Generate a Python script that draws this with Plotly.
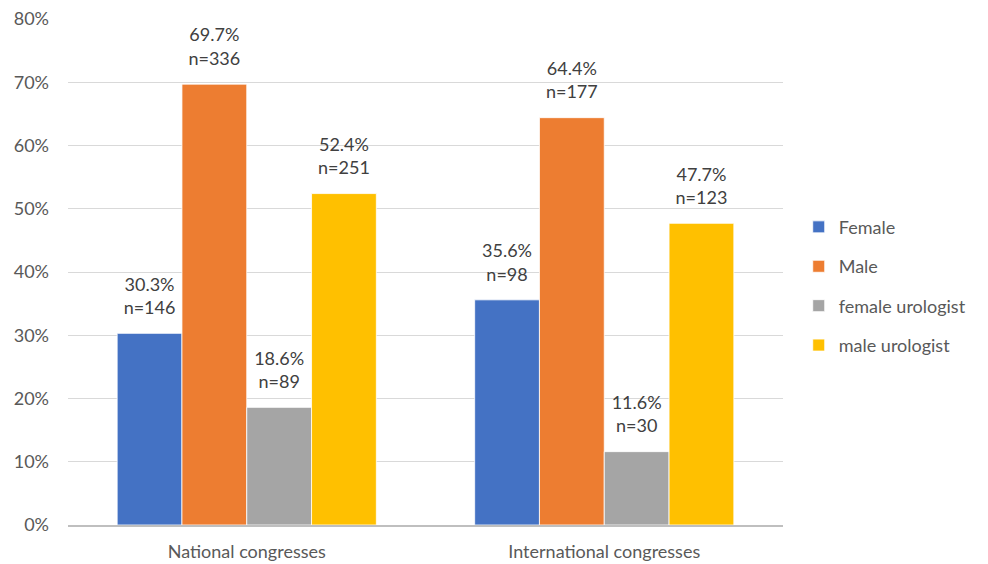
import plotly.graph_objects as go

categories = ["National congresses", "International congresses"]
series_names = ["Female", "Male", "female urologist", "male urologist"]
female = [30.3, 35.6]
male = [69.7, 64.4]
female_urologist = [18.6, 11.6]
male_urologist = [52.4, 47.7]
female_n = [146, 98]
male_n = [336, 177]
female_urologist_n = [89, 30]
male_urologist_n = [251, 123]
tick_vals = [0, 10, 20, 30, 40, 50, 60, 70, 80]
tick_text = ["0%", "10%", "20%", "30%", "40%", "50%", "60%", "70%", "80%"]

colors = ["#4472C4", "#ED7D31", "#A5A5A5", "#FFC000"]
values = [female, male, female_urologist, male_urologist]
counts = [female_n, male_n, female_urologist_n, male_urologist_n]

FONT = "Lato, 'Open Sans', sans-serif"

fig = go.Figure()
for i, name in enumerate(series_names):
    fig.add_trace(go.Bar(
        x=categories, y=values[i], name=name,
        marker=dict(color=colors[i], line=dict(color="white", width=0.8)),
        legendgroup=name, offsetgroup=str(i),
    ))
for i, name in enumerate(series_names):
    fig.add_trace(go.Scatter(
        x=categories, y=values[i], name=name, showlegend=False,
        mode="markers+text", offsetgroup=str(i),
        marker=dict(size=22, opacity=0),
        text=[f"{v:.1f}%<br>n={n}" for v, n in zip(values[i], counts[i])],
        textposition="top center", cliponaxis=False, hoverinfo="skip",
        textfont=dict(size=18, color="#404040", family=FONT),
    ))

fig.update_layout(
    width=988, height=564,
    margin=dict(l=68, r=205, t=19, b=39, autoexpand=False),
    paper_bgcolor="white", plot_bgcolor="white",
    barmode="group", bargap=0.275, bargroupgap=0,
    scattermode="group", scattergap=0.275,
    font=dict(family=FONT, color="#595959", size=18),
    legend=dict(x=1.022, y=0.472, xanchor="left", yanchor="middle",
                font=dict(size=18, color="#595959", family=FONT),
                tracegroupgap=13, traceorder="grouped"),
)
fig.update_yaxes(range=[0, 80], tickvals=tick_vals, ticktext=tick_text,
                 showgrid=True, gridcolor="#D9D9D9", gridwidth=1, automargin=False,
                 zeroline=False, showline=False, ticks="", ticklabelstandoff=18,
                 tickfont=dict(size=18, color="#595959"))
fig.update_xaxes(showline=True, linecolor="#BFBFBF", linewidth=1.5, ticks="",
                 automargin=False,
                 ticklabelstandoff=10, tickfont=dict(size=18, color="#595959"))

fig.write_html("out.html")
